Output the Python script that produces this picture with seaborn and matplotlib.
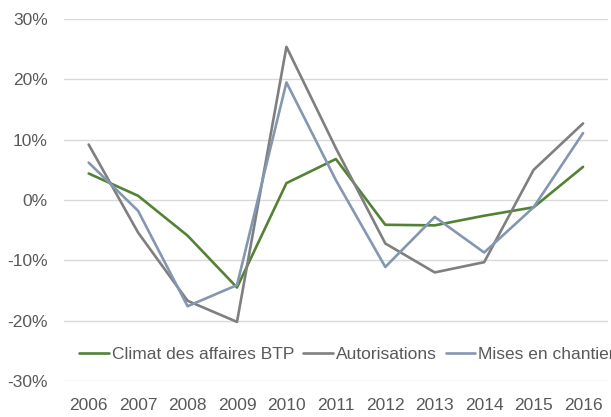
import matplotlib
matplotlib.use("Agg")
import matplotlib.pyplot as plt
import matplotlib.ticker as mtick
import pandas as pd
import seaborn as sns

years = ["2006", "2007", "2008", "2009", "2010", "2011",
         "2012", "2013", "2014", "2015", "2016"]
climat = [4.4, 0.7, -5.9, -14.5, 2.8, 6.8, -4.1, -4.2, -2.6, -1.2, 5.5]
autorisations = [9.2, -5.4, -16.7, -20.2, 25.4, 8.6, -7.2, -12.0, -10.3, 5.0, 12.7]
mises = [6.2, -1.8, -17.6, -14.1, 19.5, 3.3, -11.1, -2.8, -8.7, -1.2, 11.1]

series = ["Climat des affaires BTP", "Autorisations", "Mises en chantier"]
colors = ["#548235", "#7f7f7f", "#8497b0"]

df = pd.DataFrame({
    "annee": years * 3,
    "valeur": climat + autorisations + mises,
    "serie": [s for s in series for _ in years],
})

sns.set_style("white")
plt.rcParams["font.family"] = ["Liberation Sans", "DejaVu Sans"]
txt = "#595959"

fig = plt.figure(figsize=(6.11, 4.17), dpi=100)
ax = fig.add_axes([0.1047, 0.0863, 0.890, 0.868])

sns.lineplot(data=df, x="annee", y="valeur", hue="serie", hue_order=series,
             palette=dict(zip(series, colors)), linewidth=1.9, ax=ax,
             sort=False)

ax.set_xlim(-0.5, 10.5)
ax.set_ylim(-30, 30)
ax.set_yticks([-30, -20, -10, 0, 10, 20, 30])
ax.yaxis.set_major_formatter(mtick.FuncFormatter(lambda v, p: f"{v:.0f}%"))
ax.grid(axis="y", color="#d9d9d9", linewidth=1.0)
ax.grid(axis="x", visible=False)
for s in ax.spines.values():
    s.set_visible(False)
ax.tick_params(axis="y", length=0, pad=11.5, labelsize=12.5, labelcolor=txt)
ax.tick_params(axis="x", length=0, pad=12, labelsize=12.5, labelcolor=txt)
ax.set_xlabel("")
ax.set_ylabel("")

ax.legend(loc="center", bbox_to_anchor=(0.568, 0.149),
          bbox_transform=fig.transFigure, ncol=3, frameon=False,
          fontsize=12.5, labelcolor=txt, handlelength=1.72,
          handletextpad=0.17, columnspacing=0.5, borderaxespad=0)

fig.savefig("out.png", dpi=100)
